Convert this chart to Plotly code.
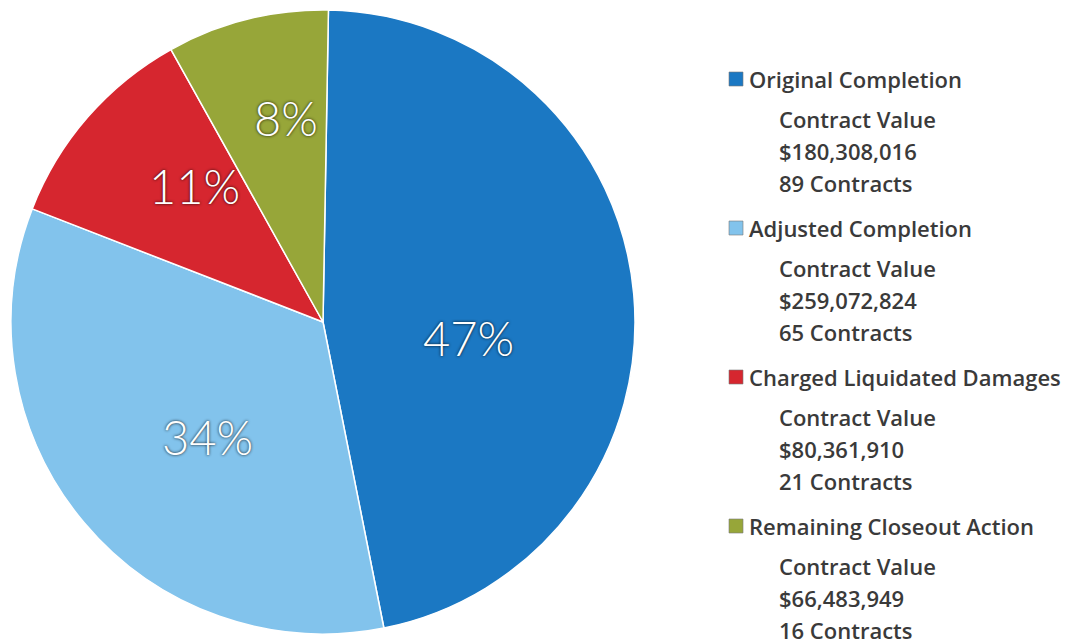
import math
import plotly.graph_objects as go

# ---------------- data ----------------
categories = ["Original Completion", "Adjusted Completion",
              "Charged Liquidated Damages", "Remaining Closeout Action"]
contracts = [89, 65, 21, 16]
contract_values = ["$180,308,016", "$259,072,824", "$80,361,910", "$66,483,949"]
colors = ["#1b78c3", "#82c3ec", "#d6262f", "#97a639"]

# ---------------- layout constants (pixels) ----------------
W, H = 1065, 641
CX, CY, R = 323, 322, 312          # pie centre / radius
ROTATION = 1
label_radius = [0.468, 0.522, 0.60, 0.663]   # fraction of radius for % labels
label_nudge = [11.4, -5.0, 5.6, 3.8]          # degrees

def px(x):
    return x / W

def py(y):
    return 1 - y / H

total = sum(contracts)
pct = [round(100 * c / total) for c in contracts]

fig = go.Figure(go.Pie(
    labels=categories,
    values=contracts,
    sort=False,
    direction="clockwise",
    rotation=ROTATION,
    marker=dict(colors=colors, line=dict(color="white", width=1.5)),
    textinfo="none",
    hoverinfo="label+percent",
    showlegend=False,
    domain=dict(x=[px(CX - R), px(CX + R)], y=[py(CY + R), py(CY - R)]),
))

annotations = []
shapes = []
start = ROTATION
for i, c in enumerate(contracts):
    span = 360 * c / total
    mid = math.radians(start + span / 2 + label_nudge[i])
    start += span
    r = R * label_radius[i]
    x = CX + r * math.sin(mid)
    y = CY - r * math.cos(mid)
    annotations.append(dict(
        x=px(x), y=py(y), xref="paper", yref="paper",
        text=f"{pct[i]}%", showarrow=False,
        xanchor="center", yanchor="middle",
        font=dict(family="Lato", size=47, color="white", weight=300,
                  shadow="0px 0px 3px rgba(0,0,0,0.9)"),
    ))

# ---------------- legend (custom) ----------------
LEG_TOP = 79
LEG_STEP = 149
SUB_FIRST = 40
SUB_STEP = 31.8
LEG_FONT = dict(family="Open Sans", size=22, color="#3a3a3a", weight=600)
for i, name in enumerate(categories):
    ty = LEG_TOP + i * LEG_STEP
    shapes.append(dict(
        type="rect", xref="paper", yref="paper",
        x0=px(729), x1=px(743), y0=py(ty + 7), y1=py(ty - 7),
        fillcolor=colors[i], line=dict(color="rgba(120,120,120,0.6)", width=1),
    ))
    annotations.append(dict(
        x=px(747), y=py(ty), xref="paper", yref="paper",
        text=name, showarrow=False, xanchor="left", yanchor="middle",
        font=LEG_FONT,
    ))
    sub = ["Contract Value", contract_values[i], f"{contracts[i]} Contracts"]
    for j, s in enumerate(sub):
        annotations.append(dict(
            x=px(777), y=py(ty + SUB_FIRST + j * SUB_STEP), xref="paper", yref="paper",
            text=s, showarrow=False, xanchor="left", yanchor="middle",
            font=LEG_FONT,
        ))

fig.update_layout(
    width=W, height=H,
    margin=dict(l=0, r=0, t=0, b=0),
    paper_bgcolor="white", plot_bgcolor="white",
    annotations=annotations, shapes=shapes,
)

fig.write_html("out.html",
               config={"displayModeBar": False},
               post_script="document.body.style.margin='0';"
                           "document.body.style.overflow='hidden';")
